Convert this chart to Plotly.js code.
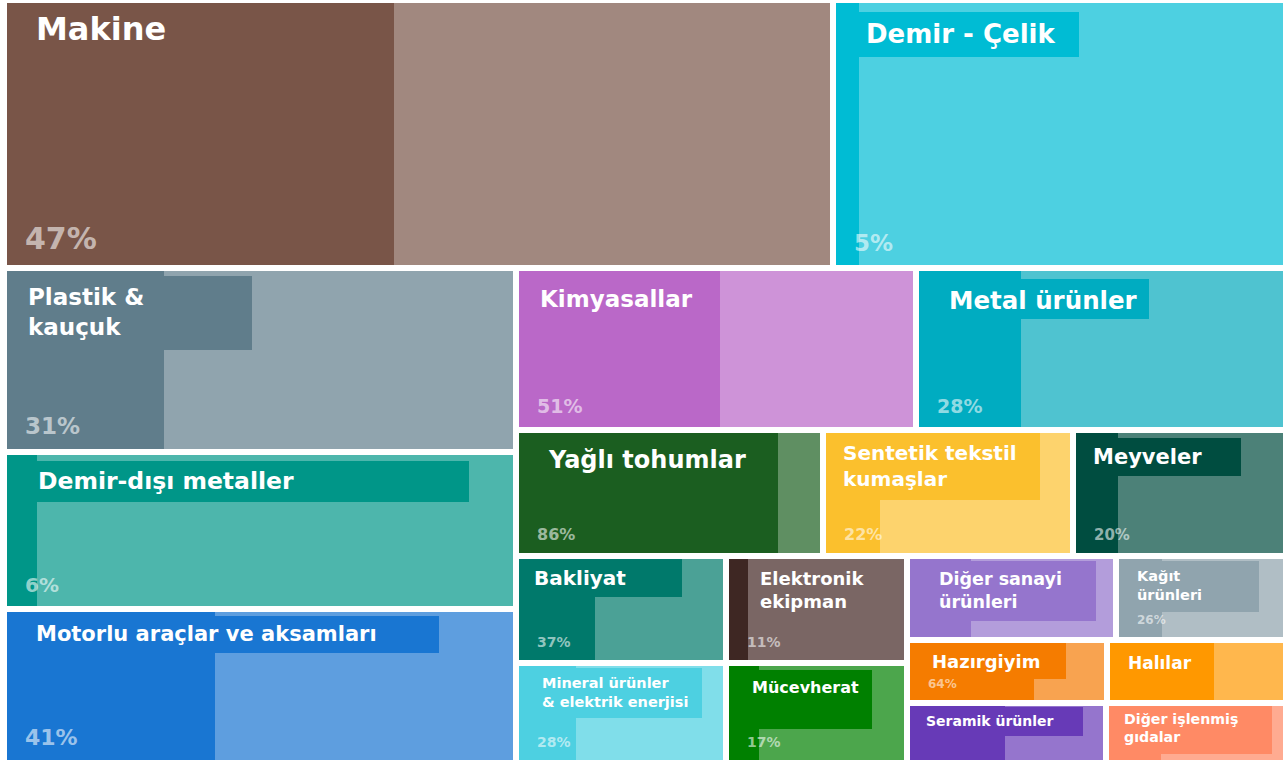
<!DOCTYPE html>
<html>
<head>
<meta charset="utf-8">
<script src="https://cdn.plot.ly/plotly-3.0.1.min.js"></script>
<style>html,body{margin:0;padding:0;background:#fff;}#chart{width:1288px;height:760px;}</style>
</head>
<body>
<div id="chart"></div>
<script>
// ---------- DATA ----------
const categories = [
  "Makine", "Demir - Çelik", "Plastik &<br>kauçuk", "Demir-dışı metaller",
  "Motorlu araçlar ve aksamları", "Kimyasallar", "Metal ürünler", "Yağlı tohumlar",
  "Sentetik tekstil<br>kumaşlar", "Meyveler", "Bakliyat", "Mineral ürünler<br>& elektrik enerjisi",
  "Elektronik<br>ekipman", "Mücevherat", "Diğer sanayi<br>ürünleri", "Kağıt<br>ürünleri",
  "Hazırgiyim", "Halılar", "Seramik ürünler", "Diğer işlenmiş<br>gıdalar"
];
// relative size of each tile (area)
const tileValue = [222.7, 121.5, 93.8, 80.7, 78.9, 64.6, 59.7, 38.8, 31.7, 26.9,
                   22.4, 21.0, 19.2, 18.1, 17.5, 14.2, 12.7, 11.4, 11.9, 10.7];
// share shown as the darker part of each tile
const sharePct = [47, 5, 31, 6, 41, 51, 28, 86, 22, 20, 37, 28, 11, 17, 30, 26, 64, 60, 49, 30];
// whether the percentage text is printed on the tile
const pctShown = [true, true, true, true, true, true, true, true, true, true,
                  true, true, true, true, false, true, true, false, false, false];

// ---------- STRUCTURE of the tiling (h = side by side, v = stacked) ----------
const tree = ['v',
  ['h', 0, 1],
  ['h',
    ['v', 2, 3, 4],
    ['v',
      ['h', 5, 6],
      ['h', 7, 8, 9],
      ['h', ['v', 10, 11], ['v', 12, 13],
        ['v', ['h', 14, 15], ['h', 16, 17], ['h', 18, 19]]]
    ]
  ]
];

// ---------- STYLES ----------
const darkColor = ["#795548", "#00BCD4", "#607D8B", "#009688", "#1976D2", "#BA68C8", "#00ACC1", "#1B5E20",
                   "#FBC02D", "#004D40", "#00796B", "#4DD0E1", "#3E2723", "#008000", "#9575CD", "#90A4AE",
                   "#F57C00", "#FF9800", "#673AB7", "#FF8A65"];
const lightColor = ["#A1887F", "#4DD0E1", "#90A4AE", "#4DB6AC", "#5E9EDF", "#CE93D8", "#4FC3D0", "#5F8F62",
                    "#FDD36D", "#4C8178", "#4BA196", "#80DEEA", "#7A6664", "#4CA64C", "#B39DDB", "#B0BEC5",
                    "#F8A350", "#FFB74D", "#9575CD", "#FFAB91"];
const labelSize = [32, 26, 23, 23.5, 21, 23, 24.5, 24, 20, 21, 20, 14.5, 18, 16, 17.5, 14.5, 18, 17, 14, 14.2];
const labelDx   = [28, 29, 20, 30, 28, 20, 29, 28, 16, 16, 14, 22, 30, 22, 28, 17, 21, 17, 15, 14];
const labelDy   = [27, 32, 27, 27, 23, 29, 29, 28, 20, 25, 19, 17, 19, 22, 20, 17, 19, 20, 15, 13];
const boxW      = [0, 243, 245, 462, 432, 0, 230, 0, 214, 165, 163, 183, 0, 143, 186, 140, 156, 0, 173, 163];
const boxTop    = [0, 9, 5, 6, 4, 0, 8, 0, 0, 5, 0, 2, 0, 4, 2, 2, 0, 0, 1, 0];
const boxH      = [0, 45, 74, 41, 37, 0, 40, 0, 67, 38, 38, 50, 0, 59, 60, 51, 36, 0, 29, 48];
const pctSize   = [30, 23, 23, 20, 22, 19, 19, 16, 16, 15, 14, 14, 14, 14, 12, 12, 12, 12, 12, 12];

const W = 1288, H = 760, GAP = 6;
const frame = [4, 0, 1286, 763];

// ---------- LAYOUT from values ----------
function sumOf(node) {
  if (typeof node === 'number') return tileValue[node];
  return node.slice(1).reduce((s, k) => s + sumOf(k), 0);
}
const rects = [];
function place(node, x0, y0, x1, y1) {
  if (typeof node === 'number') { rects[node] = [x0, y0, x1, y1]; return; }
  const dir = node[0], kids = node.slice(1);
  const total = sumOf(node);
  let pos = dir === 'h' ? x0 : y0;
  const span = dir === 'h' ? x1 - x0 : y1 - y0;
  kids.forEach(k => {
    const s = span * sumOf(k) / total;
    if (dir === 'h') place(k, pos, y0, pos + s, y1);
    else place(k, x0, pos, x1, pos + s);
    pos += s;
  });
}
place(tree, frame[0], frame[1], frame[2], frame[3]);
const tiles = rects.map(r => [r[0] + GAP / 2, r[1] + GAP / 2, r[2] - GAP / 2, r[3] - GAP / 2]);

// ---------- TRACES ----------
const n = categories.length;
const idx = [...Array(n).keys()];
const lightTrace = {
  type: 'bar', orientation: 'v', hoverinfo: 'skip', showlegend: false,
  x: idx.map(i => (tiles[i][0] + tiles[i][2]) / 2),
  width: idx.map(i => tiles[i][2] - tiles[i][0]),
  base: idx.map(i => tiles[i][1]),
  y: idx.map(i => tiles[i][3] - tiles[i][1]),
  marker: { color: lightColor, line: { width: 0 } }
};
const darkTrace = {
  type: 'bar', orientation: 'v', hoverinfo: 'skip', showlegend: false,
  x: idx.map(i => tiles[i][0] + (tiles[i][2] - tiles[i][0]) * sharePct[i] / 200),
  width: idx.map(i => (tiles[i][2] - tiles[i][0]) * sharePct[i] / 100),
  base: idx.map(i => tiles[i][1]),
  y: idx.map(i => tiles[i][3] - tiles[i][1]),
  marker: { color: darkColor, line: { width: 0 } }
};
const boxIdx = idx.filter(i => boxW[i] > 0);
const boxTrace = {
  type: 'bar', orientation: 'v', hoverinfo: 'skip', showlegend: false,
  x: boxIdx.map(i => tiles[i][0] + boxW[i] / 2),
  width: boxIdx.map(i => boxW[i]),
  base: boxIdx.map(i => tiles[i][1] + boxTop[i]),
  y: boxIdx.map(i => boxH[i]),
  marker: { color: boxIdx.map(i => darkColor[i]), line: { width: 0 } }
};

// ---------- TEXT ----------
const annotations = [];
idx.forEach(i => {
  const t = tiles[i];
  annotations.push({
    xref: 'x', yref: 'y', x: t[0] + labelDx[i], y: t[1] + labelDy[i] - 0.65 * labelSize[i],
    xanchor: 'left', yanchor: 'top', align: 'left', showarrow: false, borderpad: 0,
    text: categories[i],
    font: { family: 'DejaVu Sans', size: labelSize[i], color: '#ffffff', weight: 'bold' }
  });
  if (pctShown[i]) {
    annotations.push({
      xref: 'x', yref: 'y', x: t[0] + 17, y: t[3] - (10 + 0.55 * pctSize[i]),
      xanchor: 'left', yanchor: 'middle', showarrow: false, borderpad: 0,
      text: sharePct[i] + '%',
      font: { family: 'DejaVu Sans', size: pctSize[i], color: 'rgba(255,255,255,0.58)', weight: 'bold' }
    });
  }
});

const layout = {
  width: W, height: H,
  margin: { l: 0, r: 0, t: 0, b: 0, pad: 0 },
  paper_bgcolor: '#ffffff', plot_bgcolor: '#ffffff',
  barmode: 'overlay', bargap: 0,
  xaxis: { range: [0, W], visible: false, fixedrange: true, showgrid: false, zeroline: false },
  yaxis: { range: [H, 0], visible: false, fixedrange: true, showgrid: false, zeroline: false },
  annotations: annotations,
  showlegend: false
};

Plotly.newPlot('chart', [lightTrace, darkTrace, boxTrace], layout, { staticPlot: true, displayModeBar: false });
</script>
</body>
</html>
